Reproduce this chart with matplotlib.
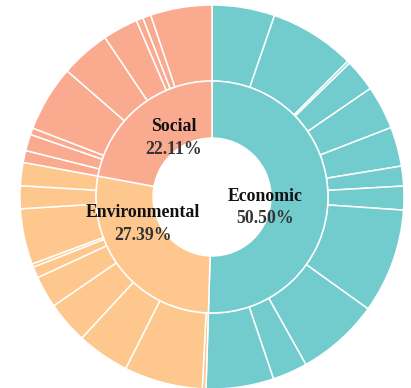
import matplotlib.pyplot as plt

# inner ring: share of each pillar (%)
pillars = ["Economic", "Environmental", "Social"]
pillar_share = [50.50, 27.39, 22.11]
pillar_colors = ["#72CCCE", "#FDC78D", "#FAAA8F"]

# outer ring: indicator shares (%) within each pillar, clockwise from top
economic_items = [5.28, 7.22, 0.22, 2.72, 3.67, 3.31, 1.67, 2.00, 8.81, 6.97, 2.94, 5.69]
environmental_items = [0.31, 6.61, 4.44, 3.56, 2.69, 0.94, 0.28, 4.69, 1.92, 1.95]
social_items = [1.00, 1.39, 0.56, 5.56, 4.19, 2.97, 0.58, 0.69, 5.17]

outer_vals = economic_items + environmental_items + social_items
outer_cols = ([pillar_colors[0]] * len(economic_items)
              + [pillar_colors[1]] * len(environmental_items)
              + [pillar_colors[2]] * len(social_items))

fig = plt.figure(figsize=(4.11, 3.88), dpi=100)
ax = fig.add_axes([0, 0, 1, 1])

edge = dict(edgecolor="white", linewidth=1.1)
r_hole, r_mid, r_out = 0.307, 0.604, 1.0

ax.pie(outer_vals, colors=outer_cols, radius=r_out, startangle=90,
       counterclock=False, wedgeprops=dict(width=r_out - r_mid, **edge))
ax.pie(pillar_share, colors=pillar_colors, radius=r_mid, startangle=90,
       counterclock=False, wedgeprops=dict(width=r_mid - r_hole, **edge))

ax.set_xlim(-212 / 192, (411 - 212) / 192)
ax.set_ylim(-191 / 192, (388 - 191) / 192)
ax.set_aspect("auto")
ax.axis("off")

font = dict(family="Liberation Serif", fontweight="bold", fontsize=12.8,
            ha="center", va="center")
label_pos = {"Economic": (0.275, 0.005), "Environmental": (-0.359, -0.08),
             "Social": (-0.198, 0.365)}
for name, share in zip(pillars, pillar_share):
    x, y = label_pos[name]
    ax.text(x, y, name, color="#111111", **font)
    ax.text(x, y - 0.118, f"{share:.2f}%", color="#333333", **font)

fig.savefig("out.png", dpi=100)
